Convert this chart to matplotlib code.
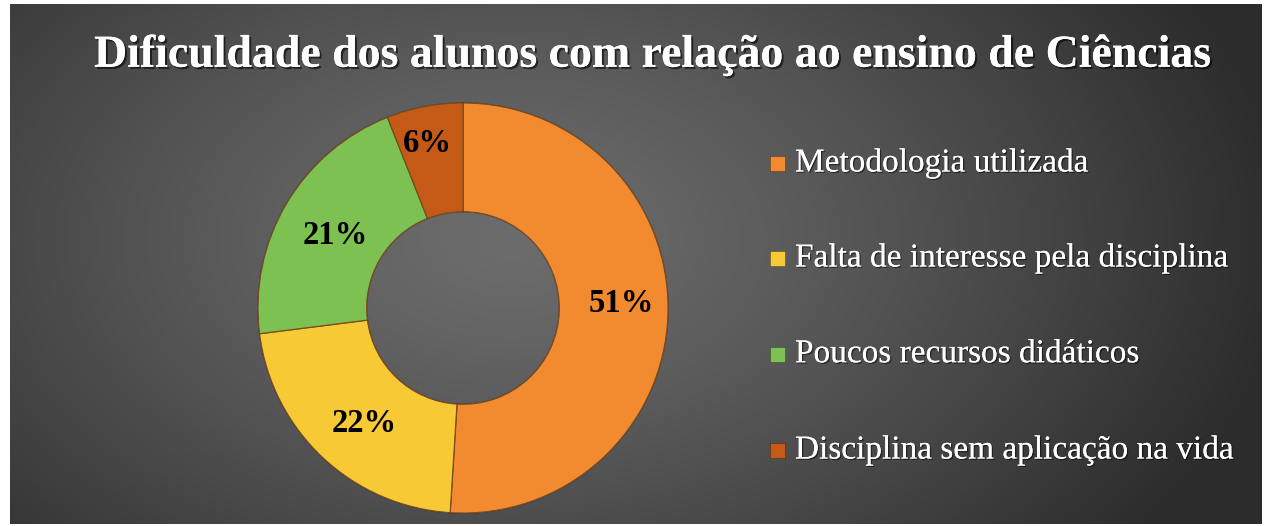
import numpy as np
import matplotlib
matplotlib.use("Agg")
import matplotlib.pyplot as plt
import matplotlib.patheffects as pe
from matplotlib.patches import Rectangle

title = "Dificuldade dos alunos com relação ao ensino de Ciências"
categories = ["Metodologia utilizada", "Falta de interesse pela disciplina",
              "Poucos recursos didáticos", "Disciplina sem aplicação na vida"]
values = [51, 22, 21, 6]
labels = ["51%", "22%", "21%", "6%"]
colors = ["#F28B30", "#F7C934", "#7DC152", "#C45A15"]

W, H = 1264, 526
fig = plt.figure(figsize=(W / 100, H / 100), dpi=100)
fig.patch.set_facecolor("white")

# background panel with radial gradient
bx0, by0 = 10 / W, 2 / H
bg = fig.add_axes([bx0, by0, 1 - bx0 - 2 / W, 1 - by0 - 4 / H])
bg.set_axis_off()
ny, nx = 260, 620
yy, xx = np.mgrid[0:ny, 0:nx]
cx, cy = nx * 0.40, ny * 0.45
d = np.sqrt(((xx - cx) / (nx * 0.62)) ** 2 + ((yy - cy) / (ny * 0.95)) ** 2)
d = np.clip(d, 0, 1)
light = np.array([0x6c, 0x6c, 0x6c]) / 255
dark = np.array([0x2c, 0x2c, 0x2c]) / 255
img = light[None, None, :] * (1 - d[..., None] ** 1.3) + dark[None, None, :] * (d[..., None] ** 1.3)
bg.imshow(img, aspect="auto", extent=[0, 1, 0, 1], origin="upper")
bg.set_xlim(0, 1)
bg.set_ylim(0, 1)

# donut
R = 205
cxp, cyp = 463, 308
ax = fig.add_axes([(cxp - R) / W, (H - cyp - R) / H, 2 * R / W, 2 * R / H])
ax.set_axis_off()
wedges, _ = ax.pie(values, colors=colors, startangle=90, counterclock=False,
                   radius=1.0,
                   wedgeprops=dict(width=0.53, edgecolor="#7a4a20", linewidth=0.8))
for w in wedges:
    w.set_path_effects([pe.withStroke(linewidth=1.2, foreground=(0, 0, 0, 0.25))])
ax.set_xlim(-1, 1)
ax.set_ylim(-1, 1)
ax.set_aspect("equal")

label_pos = [(621, 303), (364, 424), (335, 236), (427, 144)]
for lab, (px, py) in zip(labels, label_pos):
    ax.text((px - cxp) / R, (cyp - py) / R, lab, ha="center", va="center",
            fontsize=23.5, fontweight="bold", family="Liberation Serif", color="black")

# title
fig.text(0.5 * (108 + 1200) / W, 1 - 55 / H, title, ha="center", va="center",
         fontsize=33, fontweight="bold", family="Liberation Serif", color="white",
         path_effects=[pe.withSimplePatchShadow(offset=(1.5, -1.5), shadow_rgbFace="black", alpha=0.6),
                       pe.Normal()])

# legend
ly = [163, 258, 354, 450]
for cat, col, y in zip(categories, colors, ly):
    fig.patches.append(Rectangle((770 / W, (H - y - 8) / H), 15 / W, 15 / H,
                                 transform=fig.transFigure, facecolor=col,
                                 edgecolor=(0, 0, 0, 0.3), linewidth=0.6))
    fig.text(795 / W, 1 - y / H, cat, ha="left", va="center",
             fontsize=24, family="Liberation Serif", color="white",
             path_effects=[pe.withSimplePatchShadow(offset=(1, -1), shadow_rgbFace="black", alpha=0.5),
                           pe.Normal()])

fig.savefig("out.png", dpi=100, facecolor=fig.get_facecolor())
